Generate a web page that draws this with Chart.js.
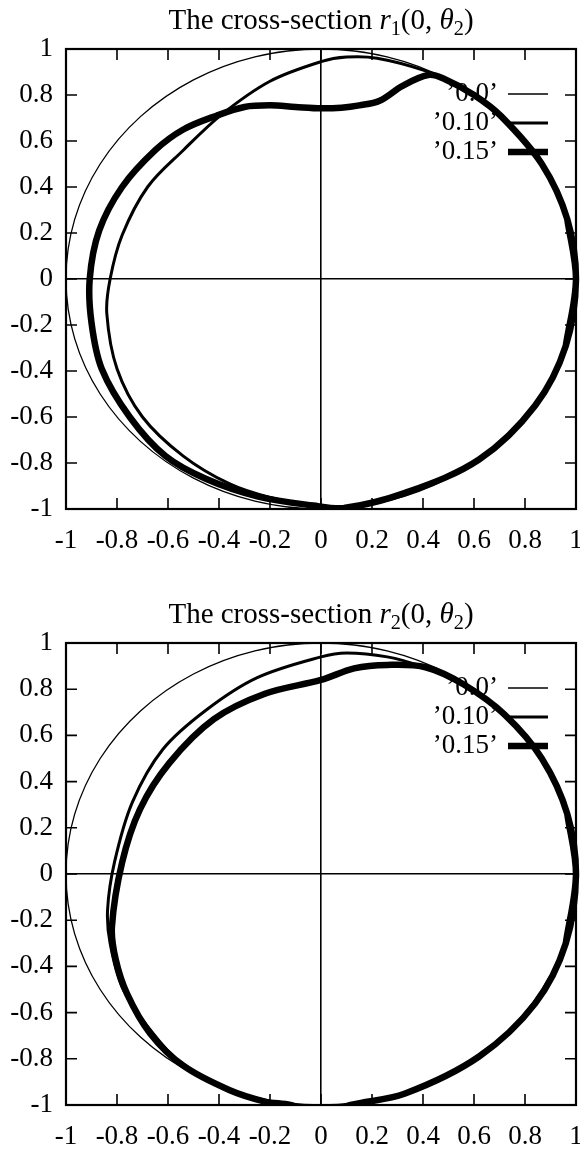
<!DOCTYPE html>
<html>
<head>
<meta charset="utf-8">
<title>Cross-sections</title>
<script src="https://cdn.jsdelivr.net/npm/chart.js@4.4.0/dist/chart.umd.min.js"></script>
<style>
  body { margin: 0; background: #fff; }
  #page { position: relative; width: 580px; height: 1150px; overflow: hidden; background: #fff; }
  .box { position: absolute; left: 0; width: 580px; height: 575px; }
  .title {
    position: absolute; left: 321px; transform: translateX(-50%);
    white-space: nowrap; font-family: "Liberation Serif", serif;
    font-size: 29px; line-height: 1; color: #000;
  }
  .title .sub { position: relative; top: 0.28em; font-size: 0.7em; }
</style>
</head>
<body>
<div id="page">
  <div class="box" style="top:0"><canvas id="chart1" width="580" height="575"></canvas></div>
  <div class="box" style="top:575px"><canvas id="chart2" width="580" height="575"></canvas></div>
  <div class="title" style="top:5px">The cross-section <i>r</i><span class="sub">1</span>(0, <i>θ</i><span class="sub">2</span>)</div>
  <div class="title" style="top:599px">The cross-section <i>r</i><span class="sub">2</span>(0, <i>θ</i><span class="sub">2</span>)</div>
</div>
<script>
// tick labels shared by both axes of both plots
const tickLabels = ['-1', '-0.8', '-0.6', '-0.4', '-0.2', '0', '0.2', '0.4', '0.6', '0.8', '1'];
const legendLabels = ['\u20190.0\u2019', '\u20190.10\u2019', '\u20190.15\u2019'];

// '0.0' : the unperturbed section (same in both plots)
const unitX = [1, 0.966, 0.866, 0.707, 0.5, 0.259, 0, -0.259, -0.5, -0.707, -0.866, -0.966, -1,
  -0.966, -0.866, -0.707, -0.5, -0.259, 0, 0.259, 0.5, 0.707, 0.866, 0.966, 1];
const unitY = [0, 0.259, 0.5, 0.707, 0.866, 0.966, 1, 0.966, 0.866, 0.707, 0.5, 0.259, 0,
  -0.259, -0.5, -0.707, -0.866, -0.966, -1, -0.966, -0.866, -0.707, -0.5, -0.259, 0];

// r1, '0.10'
const r1MidX = [1, 0.966, 0.866, 0.707, 0.55, 0.41, 0.22, 0.1, 0, -0.2, -0.39, -0.54, -0.68, -0.78, -0.827,
  -0.84, -0.80, -0.70, -0.54, -0.36, -0.2, -0.03, 0.09, 0.33, 0.62, 0.84, 0.96, 1];
const r1MidY = [0, 0.259, 0.5, 0.707, 0.835, 0.905, 0.96, 0.965, 0.945, 0.86, 0.715, 0.56, 0.40, 0.19, 0,
  -0.15, -0.39, -0.60, -0.77, -0.89, -0.95, -0.985, -0.995, -0.93, -0.785, -0.55, -0.29, 0];

// r1, '0.15'
const r1ThickX = [1, 0.966, 0.866, 0.707, 0.6, 0.48, 0.42, 0.32, 0.23, 0.15, 0.08, 0, -0.1, -0.2, -0.3, -0.41,
  -0.54, -0.65, -0.78, -0.87, -0.907, -0.90, -0.86, -0.75, -0.61, -0.45, -0.25, -0.03, 0.09, 0.33, 0.62, 0.84, 0.96, 1];
const r1ThickY = [0, 0.259, 0.5, 0.707, 0.80, 0.872, 0.887, 0.84, 0.775, 0.755, 0.745, 0.742, 0.748, 0.755, 0.748, 0.71,
  0.65, 0.56, 0.40, 0.21, 0, -0.19, -0.39, -0.60, -0.77, -0.87, -0.945, -0.985, -0.996, -0.93, -0.785, -0.55, -0.29, 0];

// r2, '0.10'
const r2MidX = [1, 0.966, 0.866, 0.72, 0.55, 0.39, 0.26, 0.10, 0, -0.25, -0.45, -0.62, -0.74, -0.81, -0.837,
  -0.827, -0.78, -0.68, -0.54, -0.36, -0.22, -0.12, 0, 0.116, 0.33, 0.62, 0.84, 0.96, 1];
const r2MidY = [0, 0.259, 0.5, 0.69, 0.825, 0.90, 0.94, 0.957, 0.94, 0.85, 0.71, 0.54, 0.31, 0.05, -0.156,
  -0.30, -0.49, -0.66, -0.83, -0.935, -0.985, -1.0, -1.04, -1.0, -0.95, -0.79, -0.56, -0.30, 0];

// r2, '0.15'
const r2ThickX = [1, 0.966, 0.866, 0.72, 0.56, 0.41, 0.26, 0.13, 0, -0.22, -0.42, -0.595, -0.71, -0.78, -0.82,
  -0.805, -0.76, -0.67, -0.54, -0.36, -0.22, -0.12, 0, 0.116, 0.33, 0.62, 0.84, 0.96, 1];
const r2ThickY = [0, 0.259, 0.5, 0.69, 0.82, 0.895, 0.905, 0.89, 0.84, 0.78, 0.67, 0.48, 0.28, 0.05, -0.23,
  -0.37, -0.52, -0.69, -0.83, -0.935, -0.985, -1.0, -1.04, -1.0, -0.95, -0.79, -0.56, -0.30, 0];

const lineWidths = [1.3, 3, 6.5];
const FONT = { family: 'Liberation Serif', size: 27 };
const TICK = 11;

// closed loop: the first and last points are the same, so one segment is
// repeated at each end to keep the spline smooth where the path joins
function points(xs, ys) {
  const p = xs.map((x, i) => ({ x: x, y: ys[i] }));
  const n = p.length;
  return [p[n - 2]].concat(p, [p[1]]);
}

// frame, inward tick marks and the key
const framePlugin = {
  id: 'frame',
  beforeDatasetsDraw(chart) {
    const { ctx, chartArea: a } = chart;
    ctx.save();
    ctx.fillStyle = '#000';
    ctx.strokeStyle = '#000';
    ctx.font = FONT.size + 'px "' + FONT.family + '"';
    ctx.textAlign = 'right';
    ctx.textBaseline = 'middle';
    chart.data.datasets.forEach((ds, i) => {
      const y = a.top + 45 + i * 29;
      ctx.fillText(ds.label, a.right - 78, y);
      ctx.lineWidth = ds.borderWidth;
      ctx.beginPath();
      ctx.moveTo(a.right - 68, y);
      ctx.lineTo(a.right - 28, y);
      ctx.stroke();
    });
    ctx.restore();
  },
  afterDatasetsDraw(chart) {
    const { ctx, chartArea: a, scales } = chart;
    ctx.save();
    ctx.strokeStyle = '#000';
    ctx.lineWidth = 1.6;
    ctx.beginPath();
    scales.x.ticks.forEach(t => {
      const px = scales.x.getPixelForValue(t.value);
      ctx.moveTo(px, a.bottom); ctx.lineTo(px, a.bottom - TICK);
      ctx.moveTo(px, a.top); ctx.lineTo(px, a.top + TICK);
    });
    scales.y.ticks.forEach(t => {
      const py = scales.y.getPixelForValue(t.value);
      ctx.moveTo(a.left, py); ctx.lineTo(a.left + TICK, py);
      ctx.moveTo(a.right, py); ctx.lineTo(a.right - TICK, py);
    });
    ctx.stroke();
    ctx.lineWidth = 2.2;
    ctx.strokeRect(a.left, a.top, a.right - a.left, a.bottom - a.top);
    ctx.restore();
  }
};

function zeroLine(c) {
  return Math.abs(c.tick.value) < 1e-9 ? '#000' : 'rgba(0,0,0,0)';
}

function makeChart(id, series, top, axisHeight) {
  return new Chart(document.getElementById(id), {
    type: 'scatter',
    data: {
      datasets: series.map((s, i) => ({
        label: legendLabels[i],
        data: s,
        showLine: true,
        pointRadius: 0,
        borderColor: '#000',
        borderWidth: lineWidths[i],
        borderJoinStyle: 'round',
        borderCapStyle: 'round',
        tension: 0.34,
        fill: false,
        clip: { left: 4, right: 4, top: 0, bottom: 0 }
      }))
    },
    options: {
      responsive: false,
      animation: false,
      layout: { padding: { top: top, right: 4, left: 0, bottom: 0 } },
      plugins: { legend: { display: false }, tooltip: { enabled: false } },
      scales: {
        x: {
          type: 'linear', min: -1, max: 1,
          border: { display: false },
          grid: { drawTicks: false, color: zeroLine, lineWidth: 1.6 },
          ticks: {
            stepSize: 0.2, autoSkip: false, maxRotation: 0, padding: 16,
            color: '#000', font: FONT,
            callback: (v, i) => tickLabels[i]
          },
          afterFit: s => { s.height = axisHeight; s.paddingLeft = 0; s.paddingRight = 0; }
        },
        y: {
          type: 'linear', min: -1, max: 1,
          border: { display: false },
          grid: { drawTicks: false, color: zeroLine, lineWidth: 1.6 },
          ticks: {
            stepSize: 0.2, autoSkip: false, padding: 13,
            color: '#000', font: FONT,
            callback: (v, i) => tickLabels[i]
          },
          afterFit: s => { s.width = 66; s.paddingTop = 0; s.paddingBottom = 0; }
        }
      }
    },
    plugins: [framePlugin]
  });
}

makeChart('chart1', [points(unitX, unitY), points(r1MidX, r1MidY), points(r1ThickX, r1ThickY)], 49, 66);
makeChart('chart2', [points(unitX, unitY), points(r2MidX, r2MidY), points(r2ThickX, r2ThickY)], 68, 45);
</script>
</body>
</html>
